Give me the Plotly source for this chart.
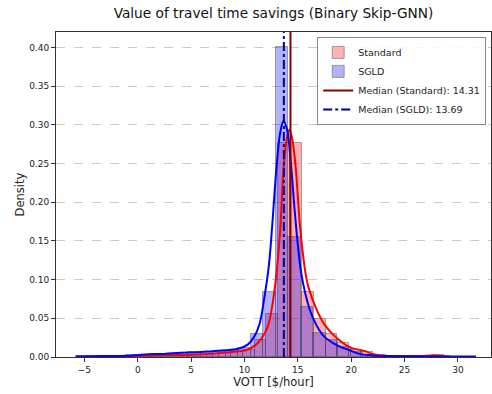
import plotly.graph_objects as go

# ---- Data ----
# Standard histogram (own bins)
std_bin_start = -4.6
std_bin_width = 1.11
standard_density = [0.0005, 0.001, 0.001, 0.0015, 0.0015, 0.002, 0.002, 0.0025, 0.003, 0.003,
                    0.004, 0.005, 0.007, 0.0095, 0.022, 0.055, 0.276, 0.276, 0.0835, 0.0486,
                    0.0297, 0.0177, 0.009, 0.006, 0.002, 0.001, 0.0008, 0.001, 0.0015, 0.002]
# SGLD histogram (own bins)
sgld_bin_start = -5.8
sgld_bin_width = 1.17
sgld_density = [0.001, 0.001, 0.001, 0.0015, 0.002, 0.003, 0.004, 0.004, 0.005, 0.006,
                0.006, 0.007, 0.008, 0.0116, 0.03, 0.0835, 0.40, 0.155, 0.065, 0.0305,
                0.022, 0.0125, 0.006, 0.003, 0.0015, 0.001, 0.001, 0.0008, 0.0008, 0.0008,
                0.0005, 0.0005]

kde_std_x = [-3.85, -2.5, -1, 0.5, 2, 3.5, 5, 6.5, 8, 9.2, 10.2, 11.0, 11.6, 12.2, 12.8,
             13.3, 13.7, 14.0, 14.22, 14.5, 14.8, 15.2, 15.7, 16.0, 16.8, 17.6, 18.7,
             19.9, 21.2, 22.1, 23.5, 25, 26.5, 27.5, 28.3, 28.8]
kde_std_y = [0.0008, 0.001, 0.0013, 0.0015, 0.002, 0.0025, 0.003, 0.004, 0.0055, 0.007,
             0.009, 0.015, 0.024, 0.04, 0.085, 0.155, 0.25, 0.285, 0.294, 0.28, 0.245,
             0.17, 0.11, 0.09, 0.06, 0.04, 0.024, 0.0125, 0.008, 0.0035, 0.0012, 0.0008,
             0.001, 0.002, 0.0015, 0.0005]

kde_sgld_x = [-5.8, -4.5, -3, -1, 1, 2.5, 4, 5.5, 7, 8.5, 9.5, 10.3, 10.9, 11.4, 11.9,
              12.3, 12.6, 13.0, 13.35, 13.66, 14.0, 14.35, 14.7, 15.0, 15.3, 15.7, 16.1,
              16.5, 17.0, 17.5, 18.3, 19.0, 19.8, 20.8, 22, 23.5, 25, 27, 29, 31.7]
kde_sgld_y = [0.0008, 0.001, 0.0012, 0.0015, 0.0035, 0.004, 0.0055, 0.006, 0.0075, 0.009,
              0.011, 0.016, 0.026, 0.042, 0.08, 0.12, 0.17, 0.245, 0.29, 0.305, 0.293,
              0.25, 0.19, 0.145, 0.11, 0.082, 0.062, 0.048, 0.035, 0.026, 0.018, 0.013,
              0.009, 0.004, 0.002, 0.0012, 0.001, 0.0008, 0.0008, 0.0005]

median_standard = 14.31
median_sgld = 13.69

x_ticks = [-5, 0, 5, 10, 15, 20, 25, 30]
y_ticks = [0.0, 0.05, 0.10, 0.15, 0.20, 0.25, 0.30, 0.35, 0.40]

# ---- Figure ----
std_centers = [std_bin_start + std_bin_width * (k + 0.5) for k in range(len(standard_density))]
sgld_centers = [sgld_bin_start + sgld_bin_width * (k + 0.5) for k in range(len(sgld_density))]
edge_line = dict(color="rgba(70,70,70,0.45)", width=1)

fig = go.Figure()
fig.add_trace(go.Bar(x=std_centers, y=standard_density, width=std_bin_width, name="Standard",
                     marker=dict(color="rgba(255,0,0,0.3)", line=edge_line)))
fig.add_trace(go.Scatter(x=kde_std_x, y=kde_std_y, mode="lines", line=dict(color="red", width=2,
                         shape="spline"), showlegend=False, hoverinfo="skip"))
fig.add_trace(go.Bar(x=sgld_centers, y=sgld_density, width=sgld_bin_width, name="SGLD",
                     marker=dict(color="rgba(0,0,255,0.3)", line=edge_line)))
fig.add_trace(go.Scatter(x=kde_sgld_x, y=kde_sgld_y, mode="lines", line=dict(color="blue", width=2,
                         shape="spline"), showlegend=False, hoverinfo="skip"))

fig.add_shape(type="line", x0=median_standard, x1=median_standard, yref="paper", y0=0, y1=1,
              line=dict(color="#8B0000", width=2), showlegend=True,
              name=f"Median (Standard): {median_standard:.2f}")
fig.add_shape(type="line", x0=median_sgld, x1=median_sgld, yref="paper", y0=0, y1=1,
              line=dict(color="#00008B", width=2, dash="dashdot"), showlegend=True,
              name=f"Median (SGLD): {median_sgld:.2f}")

fig.update_layout(
    width=492, height=394,
    barmode="overlay", bargap=0,
    plot_bgcolor="white", paper_bgcolor="white",
    font=dict(family="DejaVu Sans", size=9, color="#222"),
    margin=dict(l=56, r=1, t=32, b=37, autoexpand=False),
    title=dict(text="Value of travel time savings (Binary Skip-GNN)", x=0.5, xref="paper",
               y=1 - 13 / 394, yref="container", yanchor="middle", font=dict(size=13.7, color="#111")),
    legend=dict(x=0.989, y=0.985, xanchor="right", yanchor="top",
                bgcolor="rgba(255,255,255,0.85)", bordercolor="#888", borderwidth=1,
                font=dict(size=9.5), tracegroupgap=0, itemwidth=30),
    showlegend=True,
)
fig.update_xaxes(range=[-7.66, 33.1], tickvals=x_ticks, ticktext=[("\u2212" + str(-t)) if t < 0 else str(t) for t in x_ticks],
                 showgrid=False, zeroline=False, showline=True, mirror=True, linecolor="#333",
                 linewidth=1, ticks="outside", ticklen=4, tickcolor="#333", automargin=False,
                 title=dict(text="VOTT [$/hour]", font=dict(size=11.5), standoff=4))
fig.update_yaxes(range=[0, 0.42], tickvals=y_ticks, tickformat=".2f",
                 showgrid=True, gridcolor="rgba(180,180,180,0.7)", griddash="dash", gridwidth=0.8,
                 zeroline=False, showline=True, mirror=True, linecolor="#333", linewidth=1,
                 ticks="outside", ticklen=4, tickcolor="#333", automargin=False,
                 title=dict(text="Density", font=dict(size=11.5), standoff=2))

fig.write_html("out.html", config={"displayModeBar": False},
               post_script="document.body.style.margin='0';document.body.style.overflow='hidden';")
